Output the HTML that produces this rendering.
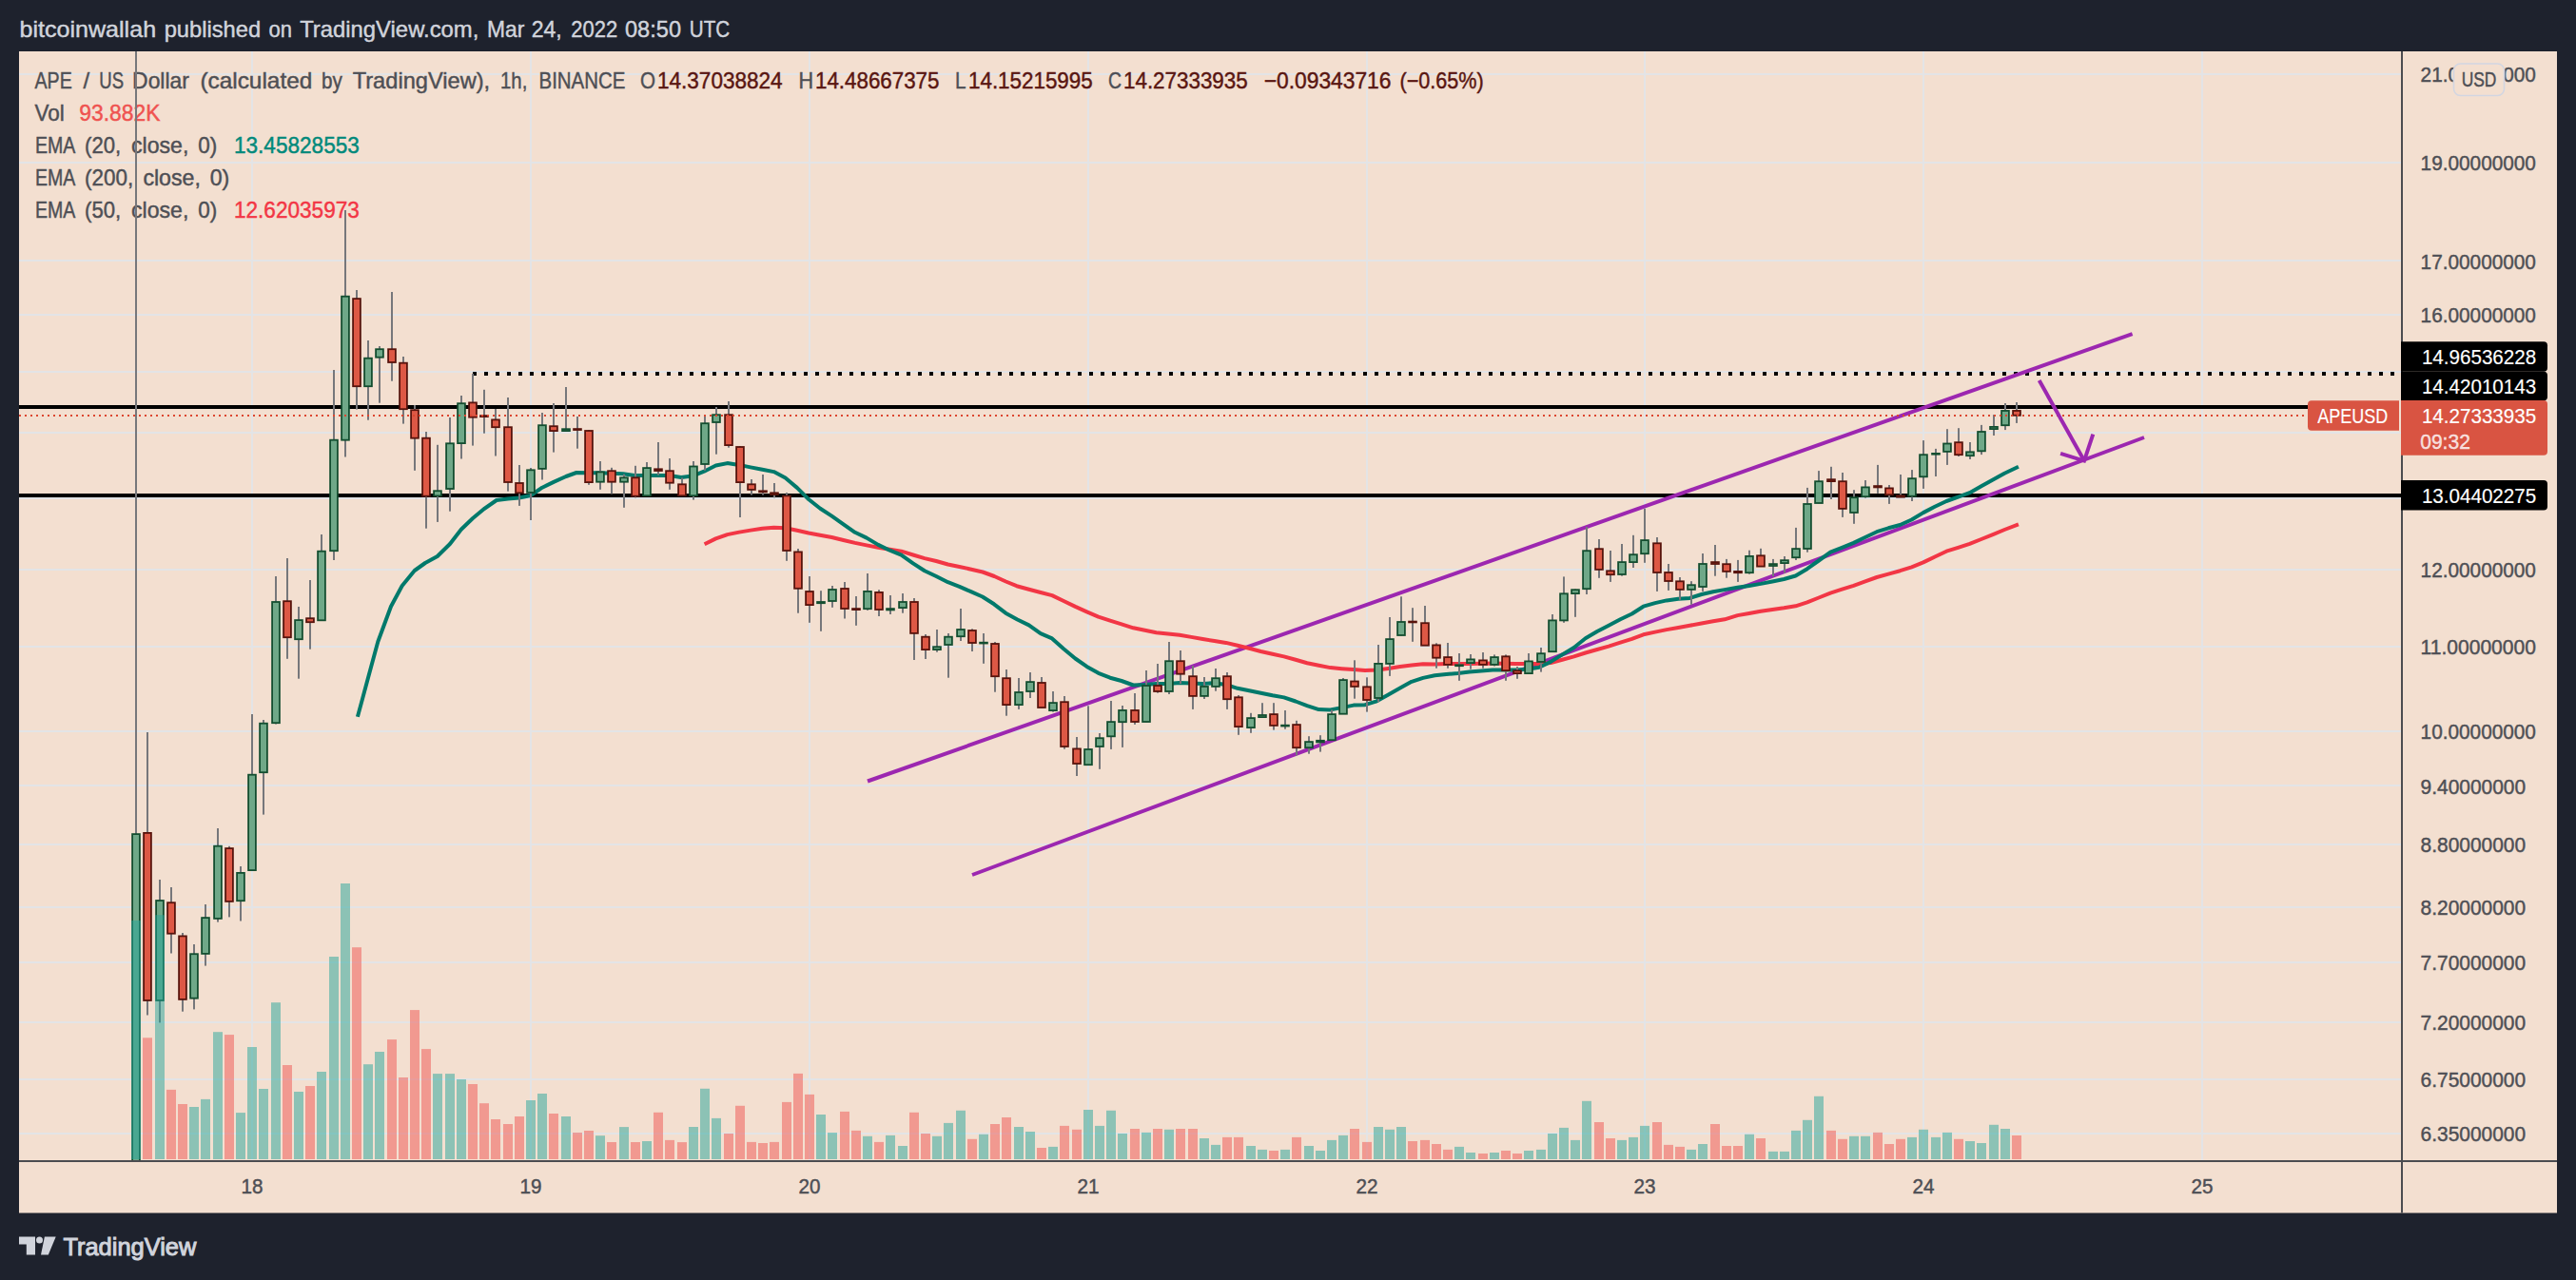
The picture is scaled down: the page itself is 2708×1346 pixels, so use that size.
<!DOCTYPE html><html><head><meta charset="utf-8"><title>APE / US Dollar chart</title><style>html,body{margin:0;padding:0;background:#1e222d;}body{width:2708px;height:1346px;overflow:hidden}</style></head><body><svg width="2708" height="1346" viewBox="0 0 2708 1346" style="display:block" font-family="'Liberation Sans', Arial, sans-serif">
<rect x="0" y="0" width="2708" height="1346" fill="#1e222d"/>
<rect x="20" y="54" width="2668" height="1221.5" fill="#f3dfd0"/>
<defs><clipPath id="cp"><rect x="20" y="54" width="2504" height="1166"/></clipPath></defs>
<g fill="#e3e4e6">
<rect x="264" y="54" width="2" height="1166"/>
<rect x="557" y="54" width="2" height="1166"/>
<rect x="850" y="54" width="2" height="1166"/>
<rect x="1143" y="54" width="2" height="1166"/>
<rect x="1436" y="54" width="2" height="1166"/>
<rect x="1728" y="54" width="2" height="1166"/>
<rect x="2021" y="54" width="2" height="1166"/>
<rect x="2314" y="54" width="2" height="1166"/>
<rect x="20" y="77" width="2504" height="2"/>
<rect x="20" y="170" width="2504" height="2"/>
<rect x="20" y="273" width="2504" height="2"/>
<rect x="20" y="330" width="2504" height="2"/>
<rect x="20" y="390" width="2504" height="2"/>
<rect x="20" y="454" width="2504" height="2"/>
<rect x="20" y="523" width="2504" height="2"/>
<rect x="20" y="598" width="2504" height="2"/>
<rect x="20" y="679" width="2504" height="2"/>
<rect x="20" y="768" width="2504" height="2"/>
<rect x="20" y="825" width="2504" height="2"/>
<rect x="20" y="887" width="2504" height="2"/>
<rect x="20" y="953" width="2504" height="2"/>
<rect x="20" y="1011" width="2504" height="2"/>
<rect x="20" y="1074" width="2504" height="2"/>
<rect x="20" y="1134" width="2504" height="2"/>
<rect x="20" y="1191" width="2504" height="2"/>
</g>
<text x="36.5" y="93" font-size="24" fill="#4e4f55" stroke="#4e4f55" stroke-width="0.45" textLength="39.2" lengthAdjust="spacingAndGlyphs">APE</text>
<text x="104.3" y="93" font-size="24" fill="#4e4f55" stroke="#4e4f55" stroke-width="0.45" textLength="25.7" lengthAdjust="spacingAndGlyphs">US</text>
<text x="139.1" y="93" font-size="24" fill="#4e4f55" stroke="#4e4f55" stroke-width="0.45" textLength="59.8" lengthAdjust="spacingAndGlyphs">Dollar</text>
<text x="210.4" y="93" font-size="24" fill="#4e4f55" stroke="#4e4f55" stroke-width="0.45" textLength="117.9" lengthAdjust="spacingAndGlyphs">(calculated</text>
<text x="338" y="93" font-size="24" fill="#4e4f55" stroke="#4e4f55" stroke-width="0.45" textLength="21.8" lengthAdjust="spacingAndGlyphs">by</text>
<text x="370.7" y="93" font-size="24" fill="#4e4f55" stroke="#4e4f55" stroke-width="0.45" textLength="144.5" lengthAdjust="spacingAndGlyphs">TradingView),</text>
<text x="526" y="93" font-size="24" fill="#4e4f55" stroke="#4e4f55" stroke-width="0.45" textLength="28.3" lengthAdjust="spacingAndGlyphs">1h,</text>
<text x="566.5" y="93" font-size="24" fill="#4e4f55" stroke="#4e4f55" stroke-width="0.45" textLength="90.9" lengthAdjust="spacingAndGlyphs">BINANCE</text>
<text x="673" y="93" font-size="24" fill="#4e4f55" stroke="#4e4f55" stroke-width="0.45" textLength="16" lengthAdjust="spacingAndGlyphs">O</text>
<text x="839.6" y="93" font-size="24" fill="#4e4f55" stroke="#4e4f55" stroke-width="0.45" textLength="15.6" lengthAdjust="spacingAndGlyphs">H</text>
<text x="1004" y="93" font-size="24" fill="#4e4f55" stroke="#4e4f55" stroke-width="0.45" textLength="11.5" lengthAdjust="spacingAndGlyphs">L</text>
<text x="1165" y="93" font-size="24" fill="#4e4f55" stroke="#4e4f55" stroke-width="0.45" textLength="14" lengthAdjust="spacingAndGlyphs">C</text>
<text x="691" y="93" font-size="24" fill="#5a1611" stroke="#5a1611" stroke-width="0.45" textLength="131.6" lengthAdjust="spacingAndGlyphs">14.37038824</text>
<text x="857" y="93" font-size="24" fill="#5a1611" stroke="#5a1611" stroke-width="0.45" textLength="130.4" lengthAdjust="spacingAndGlyphs">14.48667375</text>
<text x="1018" y="93" font-size="24" fill="#5a1611" stroke="#5a1611" stroke-width="0.45" textLength="130.7" lengthAdjust="spacingAndGlyphs">14.15215995</text>
<text x="1181" y="93" font-size="24" fill="#5a1611" stroke="#5a1611" stroke-width="0.45" textLength="130.7" lengthAdjust="spacingAndGlyphs">14.27333935</text>
<text x="1328.7" y="93" font-size="24" fill="#5a1611" stroke="#5a1611" stroke-width="0.45" textLength="133.8" lengthAdjust="spacingAndGlyphs">&#8722;0.09343716</text>
<text x="1471.5" y="93" font-size="24" fill="#5a1611" stroke="#5a1611" stroke-width="0.45" textLength="88.1" lengthAdjust="spacingAndGlyphs">(&#8722;0.65%)</text>
<text x="36.5" y="126.7" font-size="24" fill="#4e4f55" stroke="#4e4f55" stroke-width="0.45" textLength="31.3" lengthAdjust="spacingAndGlyphs">Vol</text>
<text x="87.5" y="93" font-size="24" fill="#4e4f55" stroke="#4e4f55" stroke-width="0.45">/</text>
<text x="83.3" y="126.7" font-size="24" fill="#ef5350" stroke="#ef5350" stroke-width="0.45" textLength="85.2" lengthAdjust="spacingAndGlyphs">93.882K</text>
<text x="37" y="160.9" font-size="24" fill="#4e4f55" stroke="#4e4f55" stroke-width="0.45" textLength="42.3" lengthAdjust="spacingAndGlyphs">EMA</text>
<text x="89.1" y="160.9" font-size="24" fill="#4e4f55" stroke="#4e4f55" stroke-width="0.45" textLength="38.1" lengthAdjust="spacingAndGlyphs">(20,</text>
<text x="138" y="160.9" font-size="24" fill="#4e4f55" stroke="#4e4f55" stroke-width="0.45" textLength="60.3" lengthAdjust="spacingAndGlyphs">close,</text>
<text x="208.3" y="160.9" font-size="24" fill="#4e4f55" stroke="#4e4f55" stroke-width="0.45" textLength="20.0" lengthAdjust="spacingAndGlyphs">0)</text>
<text x="246" y="160.9" font-size="24" fill="#00897b" stroke="#00897b" stroke-width="0.45" textLength="131.8" lengthAdjust="spacingAndGlyphs">13.45828553</text>
<text x="37" y="194.6" font-size="24" fill="#4e4f55" stroke="#4e4f55" stroke-width="0.45" textLength="42.3" lengthAdjust="spacingAndGlyphs">EMA</text>
<text x="89.1" y="194.6" font-size="24" fill="#4e4f55" stroke="#4e4f55" stroke-width="0.45" textLength="51.1" lengthAdjust="spacingAndGlyphs">(200,</text>
<text x="150.4" y="194.6" font-size="24" fill="#4e4f55" stroke="#4e4f55" stroke-width="0.45" textLength="60.5" lengthAdjust="spacingAndGlyphs">close,</text>
<text x="220.7" y="194.6" font-size="24" fill="#4e4f55" stroke="#4e4f55" stroke-width="0.45" textLength="20.6" lengthAdjust="spacingAndGlyphs">0)</text>
<text x="37" y="228.7" font-size="24" fill="#4e4f55" stroke="#4e4f55" stroke-width="0.45" textLength="42.3" lengthAdjust="spacingAndGlyphs">EMA</text>
<text x="89.1" y="228.7" font-size="24" fill="#4e4f55" stroke="#4e4f55" stroke-width="0.45" textLength="38.1" lengthAdjust="spacingAndGlyphs">(50,</text>
<text x="138" y="228.7" font-size="24" fill="#4e4f55" stroke="#4e4f55" stroke-width="0.45" textLength="60.3" lengthAdjust="spacingAndGlyphs">close,</text>
<text x="208.3" y="228.7" font-size="24" fill="#4e4f55" stroke="#4e4f55" stroke-width="0.45" textLength="20.0" lengthAdjust="spacingAndGlyphs">0)</text>
<text x="246" y="228.7" font-size="24" fill="#f23645" stroke="#f23645" stroke-width="0.45" textLength="131.8" lengthAdjust="spacingAndGlyphs">12.62035973</text>
<text x="20.5" y="38.9" font-size="24" fill="#d1d4dc" stroke="#d1d4dc" stroke-width="0.45" textLength="143.6" lengthAdjust="spacingAndGlyphs">bitcoinwallah</text>
<text x="172.7" y="38.9" font-size="24" fill="#d1d4dc" stroke="#d1d4dc" stroke-width="0.45" textLength="101.4" lengthAdjust="spacingAndGlyphs">published</text>
<text x="282.6" y="38.9" font-size="24" fill="#d1d4dc" stroke="#d1d4dc" stroke-width="0.45" textLength="24.5" lengthAdjust="spacingAndGlyphs">on</text>
<text x="315.2" y="38.9" font-size="24" fill="#d1d4dc" stroke="#d1d4dc" stroke-width="0.45" textLength="188.1" lengthAdjust="spacingAndGlyphs">TradingView.com,</text>
<text x="512.1" y="38.9" font-size="24" fill="#d1d4dc" stroke="#d1d4dc" stroke-width="0.45" textLength="39.3" lengthAdjust="spacingAndGlyphs">Mar</text>
<text x="558.7" y="38.9" font-size="24" fill="#d1d4dc" stroke="#d1d4dc" stroke-width="0.45" textLength="32.0" lengthAdjust="spacingAndGlyphs">24,</text>
<text x="600.3" y="38.9" font-size="24" fill="#d1d4dc" stroke="#d1d4dc" stroke-width="0.45" textLength="48.9" lengthAdjust="spacingAndGlyphs">2022</text>
<text x="657" y="38.9" font-size="24" fill="#d1d4dc" stroke="#d1d4dc" stroke-width="0.45" textLength="59" lengthAdjust="spacingAndGlyphs">08:50</text>
<text x="724.8" y="38.9" font-size="24" fill="#d1d4dc" stroke="#d1d4dc" stroke-width="0.45" textLength="42.4" lengthAdjust="spacingAndGlyphs">UTC</text>
<g clip-path="url(#cp)">
<rect x="20" y="426" width="2406" height="4" fill="#000"/>
<rect x="20" y="519" width="2504" height="4" fill="#000"/>
<line x1="497" y1="393" x2="2520" y2="393" stroke="#000" stroke-width="4" stroke-dasharray="4 8"/>
<g stroke="#9c27b0" stroke-width="4" fill="none">
<line x1="912" y1="821.5" x2="2241.6" y2="351.2"/>
<line x1="1022" y1="920" x2="2254" y2="460"/>
</g>
<polyline points="740.6,572.3 752.5,566.4 764.6,562.1 777.0,559.6 789.0,557.6 801.4,555.7 813.5,554.7 825.6,555.3 837.9,557.8 850.0,560.5 862.0,562.8 874.4,565.0 886.6,568.0 898.8,570.9 911.0,573.4 923.2,575.8 935.4,577.8 947.5,579.7 959.8,583.5 972.0,587.1 984.2,590.0 996.5,593.5 1008.6,596.0 1021.0,598.7 1033.0,601.5 1045.3,606.0 1057.4,611.5 1068.8,616.2 1081.6,619.8 1093.9,623.0 1106.0,626.1 1118.2,632.0 1130.4,637.9 1142.5,643.3 1154.7,648.6 1167.0,652.6 1179.0,656.4 1191.4,660.3 1203.5,662.8 1215.6,665.2 1227.9,666.5 1240.0,667.7 1252.3,669.9 1264.4,672.0 1276.7,674.0 1288.8,675.9 1300.9,678.8 1313.2,681.8 1325.4,685.0 1337.7,687.8 1349.7,690.4 1362.0,693.8 1374.1,697.2 1386.4,699.8 1398.5,702.1 1410.6,703.2 1422.9,704.1 1435.0,705.0 1447.3,704.6 1459.5,702.9 1471.8,701.1 1483.9,699.6 1496.0,698.2 1508.3,698.4 1520.4,698.0 1544.8,698.0 1569.2,697.6 1593.6,698.0 1618.0,698.0 1630.2,697.0 1642.3,693.7 1654.6,690.4 1666.7,686.5 1679.0,683.0 1691.1,679.6 1703.4,675.7 1715.5,671.8 1727.6,667.3 1739.9,664.6 1752.0,662.1 1764.3,660.0 1776.4,657.8 1788.7,655.5 1800.9,653.3 1813.0,651.3 1826.6,647.1 1838.8,645.0 1851.0,642.8 1863.2,641.0 1875.4,639.3 1887.6,637.3 1899.8,633.4 1912.0,628.5 1924.2,623.6 1936.4,619.7 1948.6,615.8 1960.8,611.4 1973.0,607.0 1985.2,603.6 1997.4,600.2 2009.6,596.3 2021.8,591.4 2034.0,585.5 2046.2,579.7 2058.4,575.8 2070.6,571.9 2082.8,567.0 2095.0,562.1 2107.2,557.0 2121.9,551.4" fill="none" stroke="#f23645" stroke-width="4" stroke-linejoin="round"/>
<polyline points="375.9,753.7 381.0,735.0 387.6,710.5 397.3,674.8 411.0,637.7 422.7,616.0 435.8,600.0 447.0,592.0 459.8,585.0 473.0,572.0 484.8,556.7 497.0,545.0 509.0,535.0 522.0,526.0 534.0,524.5 545.8,523.5 558.0,521.0 570.0,512.7 582.0,506.9 595.0,501.0 606.0,497.0 618.4,497.3 630.7,497.3 643.0,497.7 655.0,498.2 667.0,500.0 679.0,500.0 691.6,500.0 703.7,500.0 716.0,502.0 728.0,500.6 740.2,495.7 752.5,489.5 764.6,487.1 777.0,488.9 789.0,491.4 801.4,493.8 813.5,496.1 825.6,502.5 837.9,512.9 850.0,525.0 862.3,534.8 874.4,542.6 886.7,551.4 898.8,559.8 911.0,565.6 923.2,572.9 935.4,578.7 947.5,583.6 959.8,592.4 972.0,600.2 984.2,606.0 996.5,612.2 1008.6,616.8 1020.7,622.2 1032.8,627.5 1045.0,635.3 1057.2,644.7 1069.5,651.5 1081.6,657.4 1093.9,666.2 1106.0,671.4 1118.1,682.2 1130.4,692.5 1142.5,700.9 1154.7,707.8 1167.0,712.7 1179.0,716.0 1191.4,720.5 1203.5,719.9 1215.6,718.9 1227.9,718.9 1240.0,717.9 1252.3,718.5 1264.4,718.9 1276.7,718.3 1288.8,719.9 1300.9,723.8 1313.2,726.3 1325.4,728.7 1337.7,731.3 1349.7,733.4 1362.0,737.5 1374.1,742.1 1386.4,746.1 1398.5,746.4 1410.6,744.1 1422.9,741.6 1435.0,741.2 1447.3,737.3 1459.5,730.4 1471.8,723.6 1483.9,716.8 1496.0,712.9 1508.3,710.3 1520.4,708.9 1532.7,708.0 1544.8,706.6 1557.1,705.6 1569.2,704.5 1581.3,704.5 1593.6,704.6 1605.7,703.7 1618.0,701.7 1630.2,695.9 1642.3,688.4 1654.6,681.0 1666.7,671.2 1679.0,664.0 1691.1,657.8 1703.4,651.3 1715.5,645.5 1727.6,637.7 1739.9,634.1 1752.0,631.4 1764.3,629.8 1776.4,628.9 1788.8,625.0 1800.9,622.3 1813.0,620.1 1826.6,617.8 1838.8,615.9 1851.0,613.9 1863.2,611.5 1875.4,609.0 1887.6,605.5 1899.8,598.2 1912.0,589.5 1924.2,580.7 1936.4,575.8 1948.6,570.9 1960.8,565.0 1973.0,559.2 1985.2,555.3 1997.4,552.0 2009.6,546.5 2021.8,539.1 2034.0,532.8 2046.2,527.0 2058.4,522.7 2070.6,518.2 2082.8,511.3 2095.0,504.5 2107.2,497.7 2121.9,490.8" fill="none" stroke="#00796b" stroke-width="4" stroke-linejoin="round"/>
<g fill="#76777b"><rect x="142" y="54.0" width="2" height="1168.0"/><rect x="154" y="770.0" width="2" height="297.5"/><rect x="167" y="925.0" width="2" height="150.4"/><rect x="179" y="933.0" width="2" height="69.5"/><rect x="191" y="981.0" width="2" height="82.7"/><rect x="203" y="993.0" width="2" height="68.4"/><rect x="215" y="951.0" width="2" height="64.6"/><rect x="228" y="871.0" width="2" height="98.6"/><rect x="240" y="889.8" width="2" height="74.6"/><rect x="252" y="911.0" width="2" height="57.5"/><rect x="264" y="751.0" width="2" height="164.4"/><rect x="276" y="757.0" width="2" height="99.6"/><rect x="289" y="606.0" width="2" height="155.5"/><rect x="301" y="587.0" width="2" height="105.8"/><rect x="313" y="638.0" width="2" height="75.7"/><rect x="325" y="610.0" width="2" height="72.7"/><rect x="337" y="562.0" width="2" height="90.6"/><rect x="350" y="389.0" width="2" height="200.0"/><rect x="362" y="221.0" width="2" height="259.5"/><rect x="374" y="305.0" width="2" height="125.5"/><rect x="386" y="358.0" width="2" height="83.7"/><rect x="398" y="364.0" width="2" height="59.7"/><rect x="411" y="307.0" width="2" height="93.7"/><rect x="423" y="375.0" width="2" height="70.6"/><rect x="435" y="426.0" width="2" height="68.8"/><rect x="447" y="454.0" width="2" height="101.7"/><rect x="459" y="467.8" width="2" height="81.1"/><rect x="472" y="439.0" width="2" height="98.7"/><rect x="484" y="416.0" width="2" height="66.5"/><rect x="496" y="393.0" width="2" height="75.6"/><rect x="508" y="409.8" width="2" height="45.9"/><rect x="520" y="430.0" width="2" height="49.5"/><rect x="533" y="418.0" width="2" height="98.6"/><rect x="545" y="489.0" width="2" height="42.9"/><rect x="557" y="492.0" width="2" height="55.0"/><rect x="569" y="434.0" width="2" height="70.5"/><rect x="581" y="424.0" width="2" height="51.6"/><rect x="594" y="407.0" width="2" height="47.0"/><rect x="606" y="438.0" width="2" height="33.7"/><rect x="618" y="452.0" width="2" height="57.8"/><rect x="630" y="485.0" width="2" height="29.8"/><rect x="642" y="491.8" width="2" height="27.7"/><rect x="655" y="498.6" width="2" height="35.2"/><rect x="667" y="489.8" width="2" height="33.6"/><rect x="679" y="486.0" width="2" height="35.5"/><rect x="691" y="465.0" width="2" height="34.6"/><rect x="703" y="482.0" width="2" height="32.8"/><rect x="716" y="502.5" width="2" height="19.0"/><rect x="728" y="485.0" width="2" height="40.6"/><rect x="740" y="438.0" width="2" height="56.7"/><rect x="752" y="428.0" width="2" height="49.7"/><rect x="765" y="422.0" width="2" height="48.7"/><rect x="777" y="469.0" width="2" height="75.0"/><rect x="789" y="504.0" width="2" height="16.5"/><rect x="801" y="499.0" width="2" height="21.5"/><rect x="813" y="508.0" width="2" height="15.4"/><rect x="826" y="518.0" width="2" height="71.8"/><rect x="838" y="577.0" width="2" height="67.7"/><rect x="850" y="606.0" width="2" height="48.8"/><rect x="862" y="621.2" width="2" height="42.6"/><rect x="874" y="616.0" width="2" height="22.8"/><rect x="887" y="612.0" width="2" height="38.5"/><rect x="899" y="627.0" width="2" height="30.8"/><rect x="911" y="603.0" width="2" height="38.8"/><rect x="923" y="620.2" width="2" height="27.8"/><rect x="935" y="626.0" width="2" height="20.0"/><rect x="948" y="624.0" width="2" height="20.7"/><rect x="960" y="629.0" width="2" height="65.0"/><rect x="972" y="667.0" width="2" height="26.0"/><rect x="984" y="662.0" width="2" height="23.7"/><rect x="996" y="666.0" width="2" height="46.7"/><rect x="1009" y="640.0" width="2" height="34.0"/><rect x="1021" y="661.3" width="2" height="23.7"/><rect x="1033" y="666.0" width="2" height="31.8"/><rect x="1045" y="675.0" width="2" height="52.7"/><rect x="1057" y="704.0" width="2" height="48.7"/><rect x="1070" y="713.0" width="2" height="32.9"/><rect x="1082" y="707.0" width="2" height="27.0"/><rect x="1094" y="712.0" width="2" height="32.3"/><rect x="1106" y="727.0" width="2" height="21.6"/><rect x="1118" y="732.0" width="2" height="55.7"/><rect x="1131" y="775.0" width="2" height="41.0"/><rect x="1143" y="742.3" width="2" height="62.2"/><rect x="1155" y="771.0" width="2" height="37.8"/><rect x="1167" y="737.0" width="2" height="50.9"/><rect x="1179" y="742.0" width="2" height="43.9"/><rect x="1192" y="729.0" width="2" height="32.9"/><rect x="1204" y="705.0" width="2" height="54.3"/><rect x="1216" y="698.0" width="2" height="30.7"/><rect x="1228" y="675.0" width="2" height="55.0"/><rect x="1240" y="684.0" width="2" height="35.0"/><rect x="1253" y="700.0" width="2" height="45.9"/><rect x="1265" y="712.0" width="2" height="23.0"/><rect x="1277" y="703.0" width="2" height="23.7"/><rect x="1289" y="707.0" width="2" height="38.9"/><rect x="1301" y="731.0" width="2" height="41.8"/><rect x="1314" y="749.8" width="2" height="21.0"/><rect x="1326" y="739.2" width="2" height="15.2"/><rect x="1338" y="739.2" width="2" height="28.4"/><rect x="1350" y="747.0" width="2" height="19.7"/><rect x="1362" y="757.8" width="2" height="36.6"/><rect x="1375" y="774.2" width="2" height="18.5"/><rect x="1387" y="773.2" width="2" height="17.4"/><rect x="1399" y="746.5" width="2" height="32.0"/><rect x="1411" y="713.0" width="2" height="38.0"/><rect x="1423" y="694.3" width="2" height="40.4"/><rect x="1436" y="712.3" width="2" height="36.3"/><rect x="1448" y="678.0" width="2" height="60.2"/><rect x="1460" y="649.0" width="2" height="61.9"/><rect x="1472" y="627.3" width="2" height="41.0"/><rect x="1484" y="639.2" width="2" height="35.6"/><rect x="1497" y="637.0" width="2" height="42.0"/><rect x="1509" y="676.3" width="2" height="26.4"/><rect x="1521" y="676.0" width="2" height="26.7"/><rect x="1533" y="687.0" width="2" height="28.8"/><rect x="1545" y="688.0" width="2" height="15.7"/><rect x="1558" y="686.0" width="2" height="16.7"/><rect x="1570" y="688.4" width="2" height="12.1"/><rect x="1582" y="688.4" width="2" height="27.4"/><rect x="1594" y="701.0" width="2" height="12.8"/><rect x="1606" y="687.0" width="2" height="21.4"/><rect x="1619" y="681.0" width="2" height="25.6"/><rect x="1631" y="646.0" width="2" height="39.5"/><rect x="1643" y="606.4" width="2" height="48.4"/><rect x="1655" y="619.5" width="2" height="29.3"/><rect x="1667" y="554.0" width="2" height="71.0"/><rect x="1680" y="567.0" width="2" height="40.8"/><rect x="1692" y="579.0" width="2" height="32.9"/><rect x="1704" y="572.0" width="2" height="33.7"/><rect x="1716" y="562.8" width="2" height="34.2"/><rect x="1728" y="534.8" width="2" height="57.0"/><rect x="1741" y="565.0" width="2" height="56.9"/><rect x="1753" y="593.0" width="2" height="27.9"/><rect x="1765" y="607.0" width="2" height="23.8"/><rect x="1777" y="611.2" width="2" height="24.6"/><rect x="1789" y="582.0" width="2" height="39.9"/><rect x="1802" y="573.0" width="2" height="32.7"/><rect x="1814" y="587.9" width="2" height="19.8"/><rect x="1826" y="588.9" width="2" height="23.0"/><rect x="1838" y="578.7" width="2" height="25.0"/><rect x="1850" y="576.8" width="2" height="19.1"/><rect x="1863" y="587.9" width="2" height="18.1"/><rect x="1875" y="585.0" width="2" height="17.5"/><rect x="1887" y="554.9" width="2" height="34.1"/><rect x="1899" y="512.9" width="2" height="67.8"/><rect x="1911" y="495.1" width="2" height="34.2"/><rect x="1924" y="490.8" width="2" height="34.2"/><rect x="1936" y="497.0" width="2" height="46.9"/><rect x="1948" y="515.2" width="2" height="35.6"/><rect x="1960" y="505.0" width="2" height="18.6"/><rect x="1973" y="488.9" width="2" height="29.9"/><rect x="1985" y="510.0" width="2" height="19.9"/><rect x="1997" y="499.0" width="2" height="24.0"/><rect x="2009" y="494.1" width="2" height="32.9"/><rect x="2021" y="463.1" width="2" height="50.8"/><rect x="2034" y="471.9" width="2" height="29.1"/><rect x="2046" y="451.2" width="2" height="37.7"/><rect x="2058" y="450.2" width="2" height="29.8"/><rect x="2070" y="465.0" width="2" height="18.0"/><rect x="2082" y="446.9" width="2" height="31.2"/><rect x="2095" y="436.1" width="2" height="21.9"/><rect x="2107" y="424.0" width="2" height="28.1"/><rect x="2119" y="423.0" width="2" height="21.9"/></g>
<g fill="#6fa888" stroke="#134e30" stroke-width="1.8"><rect x="139.1" y="877.10" width="7.8" height="344.60"/><rect x="164.1" y="947.00" width="7.8" height="105.00"/><rect x="200.1" y="1003.20" width="7.8" height="46.50"/><rect x="212.1" y="965.10" width="7.8" height="37.80"/><rect x="225.1" y="889.70" width="7.8" height="76.20"/><rect x="249.1" y="917.90" width="7.8" height="29.30"/><rect x="261.1" y="814.70" width="7.8" height="100.40"/><rect x="273.1" y="760.70" width="7.8" height="51.50"/><rect x="286.1" y="633.00" width="7.8" height="127.20"/><rect x="310.1" y="652.10" width="7.8" height="20.10"/><rect x="334.1" y="579.70" width="7.8" height="72.60"/><rect x="347.1" y="462.70" width="7.8" height="116.50"/><rect x="359.1" y="311.70" width="7.8" height="151.00"/><rect x="383.1" y="376.70" width="7.8" height="29.50"/><rect x="395.1" y="367.20" width="7.8" height="8.50"/><rect x="456.1" y="516.20" width="7.8" height="5.20"/><rect x="469.1" y="466.30" width="7.8" height="47.70"/><rect x="481.1" y="424.20" width="7.8" height="41.90"/><rect x="554.1" y="494.30" width="7.8" height="23.60"/><rect x="566.1" y="447.20" width="7.8" height="45.70"/><rect x="591.1" y="451.20" width="7.8" height="1.90"/><rect x="627.1" y="496.40" width="7.8" height="10.30"/><rect x="652.1" y="502.30" width="7.8" height="4.40"/><rect x="676.1" y="492.10" width="7.8" height="29.10"/><rect x="725.1" y="490.50" width="7.8" height="30.70"/><rect x="737.1" y="445.20" width="7.8" height="42.80"/><rect x="749.1" y="436.20" width="7.8" height="7.80"/><rect x="859.1" y="633.00" width="7.8" height="1.20"/><rect x="871.1" y="620.00" width="7.8" height="12.00"/><rect x="908.1" y="621.90" width="7.8" height="18.30"/><rect x="932.1" y="640.10" width="7.8" height="1.30"/><rect x="945.1" y="633.00" width="7.8" height="6.10"/><rect x="981.1" y="680.20" width="7.8" height="2.90"/><rect x="993.1" y="669.70" width="7.8" height="8.30"/><rect x="1006.1" y="662.00" width="7.8" height="7.20"/><rect x="1030.1" y="675.70" width="7.8" height="0.80"/><rect x="1067.1" y="728.00" width="7.8" height="13.10"/><rect x="1079.1" y="717.10" width="7.8" height="9.90"/><rect x="1103.1" y="739.10" width="7.8" height="8.00"/><rect x="1140.1" y="788.00" width="7.8" height="16.20"/><rect x="1152.1" y="776.20" width="7.8" height="8.80"/><rect x="1164.1" y="759.10" width="7.8" height="15.20"/><rect x="1176.1" y="746.95" width="7.8" height="12.25"/><rect x="1201.1" y="721.00" width="7.8" height="38.00"/><rect x="1225.1" y="695.20" width="7.8" height="31.80"/><rect x="1262.1" y="721.95" width="7.8" height="9.95"/><rect x="1274.1" y="713.20" width="7.8" height="8.70"/><rect x="1311.1" y="755.10" width="7.8" height="10.00"/><rect x="1323.1" y="752.00" width="7.8" height="2.10"/><rect x="1347.1" y="762.70" width="7.8" height="0.80"/><rect x="1372.1" y="780.10" width="7.8" height="6.10"/><rect x="1384.1" y="778.80" width="7.8" height="1.60"/><rect x="1396.1" y="751.10" width="7.8" height="27.10"/><rect x="1408.1" y="715.10" width="7.8" height="35.60"/><rect x="1445.1" y="697.90" width="7.8" height="36.10"/><rect x="1457.1" y="672.10" width="7.8" height="25.80"/><rect x="1469.1" y="654.00" width="7.8" height="14.00"/><rect x="1530.1" y="699.30" width="7.8" height="0.90"/><rect x="1542.1" y="693.40" width="7.8" height="3.70"/><rect x="1567.1" y="691.10" width="7.8" height="7.80"/><rect x="1603.1" y="695.40" width="7.8" height="12.70"/><rect x="1616.1" y="687.20" width="7.8" height="8.75"/><rect x="1628.1" y="652.40" width="7.8" height="32.80"/><rect x="1640.1" y="624.30" width="7.8" height="28.10"/><rect x="1652.1" y="620.20" width="7.8" height="3.90"/><rect x="1664.1" y="579.20" width="7.8" height="40.00"/><rect x="1701.1" y="591.10" width="7.8" height="12.90"/><rect x="1713.1" y="583.20" width="7.8" height="7.90"/><rect x="1725.1" y="568.10" width="7.8" height="14.10"/><rect x="1774.1" y="615.20" width="7.8" height="4.70"/><rect x="1786.1" y="593.00" width="7.8" height="24.00"/><rect x="1835.1" y="584.90" width="7.8" height="17.30"/><rect x="1860.1" y="593.10" width="7.8" height="1.90"/><rect x="1872.1" y="589.20" width="7.8" height="2.90"/><rect x="1884.1" y="577.10" width="7.8" height="9.10"/><rect x="1896.1" y="530.00" width="7.8" height="47.00"/><rect x="1908.1" y="506.20" width="7.8" height="22.80"/><rect x="1945.1" y="523.20" width="7.8" height="15.80"/><rect x="1957.1" y="512.40" width="7.8" height="9.80"/><rect x="2006.1" y="503.20" width="7.8" height="18.50"/><rect x="2018.1" y="478.20" width="7.8" height="23.10"/><rect x="2031.1" y="476.90" width="7.8" height="0.80"/><rect x="2043.1" y="466.50" width="7.8" height="8.40"/><rect x="2067.1" y="475.30" width="7.8" height="3.90"/><rect x="2079.1" y="454.00" width="7.8" height="20.30"/><rect x="2092.1" y="448.90" width="7.8" height="2.20"/><rect x="2104.1" y="431.95" width="7.8" height="15.25"/></g>
<g fill="#dd5845" stroke="#58130c" stroke-width="1.8"><rect x="151.1" y="875.90" width="7.8" height="176.10"/><rect x="176.1" y="949.20" width="7.8" height="32.50"/><rect x="188.1" y="984.40" width="7.8" height="66.50"/><rect x="237.1" y="892.10" width="7.8" height="55.80"/><rect x="298.1" y="632.20" width="7.8" height="38.00"/><rect x="322.1" y="650.20" width="7.8" height="4.00"/><rect x="371.1" y="314.10" width="7.8" height="92.10"/><rect x="408.1" y="367.20" width="7.8" height="13.80"/><rect x="420.1" y="381.70" width="7.8" height="48.50"/><rect x="432.1" y="431.20" width="7.8" height="29.50"/><rect x="444.1" y="460.70" width="7.8" height="61.00"/><rect x="493.1" y="423.40" width="7.8" height="15.30"/><rect x="505.1" y="437.10" width="7.8" height="1.00"/><rect x="517.1" y="441.40" width="7.8" height="7.80"/><rect x="530.1" y="449.20" width="7.8" height="57.80"/><rect x="542.1" y="508.00" width="7.8" height="10.30"/><rect x="578.1" y="448.20" width="7.8" height="4.90"/><rect x="603.1" y="451.10" width="7.8" height="0.90"/><rect x="615.1" y="453.00" width="7.8" height="54.10"/><rect x="639.1" y="495.20" width="7.8" height="11.50"/><rect x="664.1" y="502.30" width="7.8" height="19.40"/><rect x="688.1" y="493.30" width="7.8" height="1.70"/><rect x="700.1" y="495.20" width="7.8" height="12.50"/><rect x="713.1" y="509.30" width="7.8" height="11.90"/><rect x="762.1" y="436.20" width="7.8" height="31.90"/><rect x="774.1" y="470.00" width="7.8" height="37.10"/><rect x="786.1" y="509.30" width="7.8" height="5.60"/><rect x="798.1" y="516.30" width="7.8" height="1.00"/><rect x="810.1" y="518.30" width="7.8" height="1.70"/><rect x="823.1" y="521.40" width="7.8" height="57.60"/><rect x="835.1" y="580.40" width="7.8" height="38.40"/><rect x="847.1" y="622.00" width="7.8" height="14.10"/><rect x="884.1" y="619.00" width="7.8" height="21.00"/><rect x="896.1" y="640.10" width="7.8" height="1.00"/><rect x="920.1" y="622.90" width="7.8" height="18.10"/><rect x="957.1" y="633.00" width="7.8" height="32.90"/><rect x="969.1" y="669.70" width="7.8" height="13.40"/><rect x="1018.1" y="663.00" width="7.8" height="13.00"/><rect x="1042.1" y="677.00" width="7.8" height="34.20"/><rect x="1054.1" y="713.20" width="7.8" height="27.90"/><rect x="1091.1" y="718.00" width="7.8" height="26.00"/><rect x="1115.1" y="738.20" width="7.8" height="46.80"/><rect x="1128.1" y="787.40" width="7.8" height="15.60"/><rect x="1189.1" y="746.95" width="7.8" height="12.05"/><rect x="1213.1" y="721.00" width="7.8" height="6.00"/><rect x="1237.1" y="695.20" width="7.8" height="13.50"/><rect x="1250.1" y="711.20" width="7.8" height="20.70"/><rect x="1286.1" y="711.20" width="7.8" height="24.00"/><rect x="1298.1" y="733.30" width="7.8" height="30.80"/><rect x="1335.1" y="751.10" width="7.8" height="11.80"/><rect x="1359.1" y="762.10" width="7.8" height="24.10"/><rect x="1420.1" y="716.50" width="7.8" height="5.40"/><rect x="1433.1" y="722.30" width="7.8" height="13.70"/><rect x="1481.1" y="653.60" width="7.8" height="0.80"/><rect x="1494.1" y="655.20" width="7.8" height="23.50"/><rect x="1506.1" y="678.40" width="7.8" height="13.30"/><rect x="1518.1" y="691.10" width="7.8" height="7.80"/><rect x="1555.1" y="694.40" width="7.8" height="4.50"/><rect x="1579.1" y="690.30" width="7.8" height="14.80"/><rect x="1591.1" y="705.30" width="7.8" height="2.80"/><rect x="1677.1" y="577.20" width="7.8" height="21.70"/><rect x="1689.1" y="600.30" width="7.8" height="3.90"/><rect x="1738.1" y="571.30" width="7.8" height="30.70"/><rect x="1750.1" y="602.00" width="7.8" height="9.00"/><rect x="1762.1" y="611.30" width="7.8" height="8.60"/><rect x="1799.1" y="591.10" width="7.8" height="1.90"/><rect x="1811.1" y="593.20" width="7.8" height="7.70"/><rect x="1823.1" y="600.90" width="7.8" height="1.30"/><rect x="1847.1" y="584.30" width="7.8" height="11.30"/><rect x="1921.1" y="504.20" width="7.8" height="1.90"/><rect x="1933.1" y="506.20" width="7.8" height="28.70"/><rect x="1970.1" y="511.10" width="7.8" height="1.30"/><rect x="1982.1" y="513.40" width="7.8" height="6.80"/><rect x="1994.1" y="521.20" width="7.8" height="1.50"/><rect x="2055.1" y="465.20" width="7.8" height="13.00"/><rect x="2116.1" y="431.95" width="7.8" height="4.85"/></g>
<g fill="rgba(38,166,154,0.5)"><rect x="138" y="968.0" width="10" height="251.0"/><rect x="163" y="962.2" width="10" height="256.8"/><rect x="199" y="1164.0" width="10" height="55.0"/><rect x="211" y="1155.9" width="10" height="63.1"/><rect x="224" y="1085.2" width="10" height="133.8"/><rect x="248" y="1170.1" width="10" height="48.9"/><rect x="260" y="1101.0" width="10" height="118.0"/><rect x="272" y="1145.0" width="10" height="74.0"/><rect x="285" y="1054.2" width="10" height="164.8"/><rect x="309" y="1148.0" width="10" height="71.0"/><rect x="333" y="1127.0" width="10" height="92.0"/><rect x="346" y="1006.0" width="10" height="213.0"/><rect x="358" y="929.0" width="10" height="290.0"/><rect x="382" y="1119.2" width="10" height="99.8"/><rect x="394" y="1106.0" width="10" height="113.0"/><rect x="455" y="1129.1" width="10" height="89.9"/><rect x="468" y="1129.1" width="10" height="89.9"/><rect x="480" y="1135.0" width="10" height="84.0"/><rect x="553" y="1157.0" width="10" height="62.0"/><rect x="565" y="1150.0" width="10" height="69.0"/><rect x="590" y="1174.0" width="10" height="45.0"/><rect x="626" y="1194.2" width="10" height="24.8"/><rect x="651" y="1185.1" width="10" height="33.9"/><rect x="675" y="1200.0" width="10" height="19.0"/><rect x="724" y="1185.0" width="10" height="34.0"/><rect x="736" y="1144.8" width="10" height="74.2"/><rect x="748" y="1175.9" width="10" height="43.1"/><rect x="858" y="1172.0" width="10" height="47.0"/><rect x="870" y="1191.1" width="10" height="27.9"/><rect x="907" y="1194.8" width="10" height="24.2"/><rect x="931" y="1193.9" width="10" height="25.1"/><rect x="944" y="1205.0" width="10" height="14.0"/><rect x="980" y="1194.8" width="10" height="24.2"/><rect x="992" y="1180.9" width="10" height="38.1"/><rect x="1005" y="1167.8" width="10" height="51.2"/><rect x="1029" y="1192.8" width="10" height="26.2"/><rect x="1066" y="1185.0" width="10" height="34.0"/><rect x="1078" y="1190.0" width="10" height="29.0"/><rect x="1102" y="1205.9" width="10" height="13.1"/><rect x="1139" y="1167.0" width="10" height="52.0"/><rect x="1151" y="1183.9" width="10" height="35.1"/><rect x="1163" y="1167.8" width="10" height="51.2"/><rect x="1175" y="1192.0" width="10" height="27.0"/><rect x="1200" y="1190.9" width="10" height="28.1"/><rect x="1224" y="1187.8" width="10" height="31.2"/><rect x="1261" y="1197.0" width="10" height="22.0"/><rect x="1273" y="1203.9" width="10" height="15.1"/><rect x="1310" y="1205.0" width="10" height="14.0"/><rect x="1322" y="1208.9" width="10" height="10.1"/><rect x="1346" y="1208.9" width="10" height="10.1"/><rect x="1371" y="1205.0" width="10" height="14.0"/><rect x="1383" y="1210.0" width="10" height="9.0"/><rect x="1395" y="1198.9" width="10" height="20.1"/><rect x="1407" y="1193.9" width="10" height="25.1"/><rect x="1444" y="1185.0" width="10" height="34.0"/><rect x="1456" y="1187.8" width="10" height="31.2"/><rect x="1468" y="1185.0" width="10" height="34.0"/><rect x="1529" y="1205.9" width="10" height="13.1"/><rect x="1541" y="1212.0" width="10" height="7.0"/><rect x="1566" y="1212.0" width="10" height="7.0"/><rect x="1602" y="1210.0" width="10" height="9.0"/><rect x="1615" y="1208.9" width="10" height="10.1"/><rect x="1627" y="1192.0" width="10" height="27.0"/><rect x="1639" y="1185.9" width="10" height="33.1"/><rect x="1651" y="1198.9" width="10" height="20.1"/><rect x="1663" y="1157.8" width="10" height="61.2"/><rect x="1700" y="1198.9" width="10" height="20.1"/><rect x="1712" y="1195.9" width="10" height="23.1"/><rect x="1724" y="1183.9" width="10" height="35.1"/><rect x="1773" y="1208.9" width="10" height="10.1"/><rect x="1785" y="1203.0" width="10" height="16.0"/><rect x="1834" y="1192.8" width="10" height="26.2"/><rect x="1859" y="1210.9" width="10" height="8.1"/><rect x="1871" y="1210.9" width="10" height="8.1"/><rect x="1883" y="1188.9" width="10" height="30.1"/><rect x="1895" y="1177.8" width="10" height="41.2"/><rect x="1907" y="1152.8" width="10" height="66.2"/><rect x="1944" y="1194.8" width="10" height="24.2"/><rect x="1956" y="1194.8" width="10" height="24.2"/><rect x="2005" y="1195.9" width="10" height="23.1"/><rect x="2017" y="1187.8" width="10" height="31.2"/><rect x="2030" y="1195.9" width="10" height="23.1"/><rect x="2042" y="1190.9" width="10" height="28.1"/><rect x="2066" y="1200.0" width="10" height="19.0"/><rect x="2078" y="1202.0" width="10" height="17.0"/><rect x="2091" y="1182.8" width="10" height="36.2"/><rect x="2103" y="1187.0" width="10" height="32.0"/></g>
<g fill="rgba(239,83,80,0.5)"><rect x="150" y="1091.3" width="10" height="127.7"/><rect x="175" y="1145.9" width="10" height="73.1"/><rect x="187" y="1161.0" width="10" height="58.0"/><rect x="236" y="1088.1" width="10" height="130.9"/><rect x="297" y="1120.0" width="10" height="99.0"/><rect x="321" y="1142.0" width="10" height="77.0"/><rect x="370" y="996.2" width="10" height="222.8"/><rect x="407" y="1093.1" width="10" height="125.9"/><rect x="419" y="1133.0" width="10" height="86.0"/><rect x="431" y="1062.1" width="10" height="156.9"/><rect x="443" y="1103.1" width="10" height="115.9"/><rect x="492" y="1140.0" width="10" height="79.0"/><rect x="504" y="1160.2" width="10" height="58.8"/><rect x="516" y="1177.0" width="10" height="42.0"/><rect x="529" y="1182.0" width="10" height="37.0"/><rect x="541" y="1174.0" width="10" height="45.0"/><rect x="577" y="1171.0" width="10" height="48.0"/><rect x="602" y="1191.0" width="10" height="28.0"/><rect x="614" y="1189.0" width="10" height="30.0"/><rect x="638" y="1201.0" width="10" height="18.0"/><rect x="663" y="1201.0" width="10" height="18.0"/><rect x="687" y="1169.8" width="10" height="49.2"/><rect x="699" y="1198.9" width="10" height="20.1"/><rect x="712" y="1201.1" width="10" height="17.9"/><rect x="761" y="1192.0" width="10" height="27.0"/><rect x="773" y="1162.8" width="10" height="56.2"/><rect x="785" y="1200.9" width="10" height="18.1"/><rect x="797" y="1202.0" width="10" height="17.0"/><rect x="809" y="1200.9" width="10" height="18.1"/><rect x="822" y="1158.9" width="10" height="60.1"/><rect x="834" y="1128.9" width="10" height="90.1"/><rect x="846" y="1150.9" width="10" height="68.1"/><rect x="883" y="1168.9" width="10" height="50.1"/><rect x="895" y="1188.9" width="10" height="30.1"/><rect x="919" y="1200.9" width="10" height="18.1"/><rect x="956" y="1169.8" width="10" height="49.2"/><rect x="968" y="1192.0" width="10" height="27.0"/><rect x="1017" y="1197.8" width="10" height="21.2"/><rect x="1041" y="1182.0" width="10" height="37.0"/><rect x="1053" y="1175.0" width="10" height="44.0"/><rect x="1090" y="1207.0" width="10" height="12.0"/><rect x="1114" y="1183.9" width="10" height="35.1"/><rect x="1127" y="1187.8" width="10" height="31.2"/><rect x="1188" y="1187.0" width="10" height="32.0"/><rect x="1212" y="1187.0" width="10" height="32.0"/><rect x="1236" y="1187.0" width="10" height="32.0"/><rect x="1249" y="1187.0" width="10" height="32.0"/><rect x="1285" y="1195.9" width="10" height="23.1"/><rect x="1297" y="1195.9" width="10" height="23.1"/><rect x="1334" y="1210.0" width="10" height="9.0"/><rect x="1358" y="1195.9" width="10" height="23.1"/><rect x="1419" y="1187.0" width="10" height="32.0"/><rect x="1432" y="1200.9" width="10" height="18.1"/><rect x="1480" y="1200.0" width="10" height="19.0"/><rect x="1493" y="1198.9" width="10" height="20.1"/><rect x="1505" y="1203.0" width="10" height="16.0"/><rect x="1517" y="1208.9" width="10" height="10.1"/><rect x="1554" y="1213.0" width="10" height="6.0"/><rect x="1578" y="1210.0" width="10" height="9.0"/><rect x="1590" y="1213.0" width="10" height="6.0"/><rect x="1676" y="1180.0" width="10" height="39.0"/><rect x="1688" y="1197.0" width="10" height="22.0"/><rect x="1737" y="1180.0" width="10" height="39.0"/><rect x="1749" y="1203.9" width="10" height="15.1"/><rect x="1761" y="1205.9" width="10" height="13.1"/><rect x="1798" y="1182.0" width="10" height="37.0"/><rect x="1810" y="1205.0" width="10" height="14.0"/><rect x="1822" y="1205.0" width="10" height="14.0"/><rect x="1846" y="1197.0" width="10" height="22.0"/><rect x="1920" y="1188.9" width="10" height="30.1"/><rect x="1932" y="1197.8" width="10" height="21.2"/><rect x="1969" y="1190.9" width="10" height="28.1"/><rect x="1981" y="1203.0" width="10" height="16.0"/><rect x="1993" y="1197.8" width="10" height="21.2"/><rect x="2054" y="1197.8" width="10" height="21.2"/><rect x="2115" y="1194.0" width="10" height="25.0"/></g>
<line x1="20" y1="437" x2="2426" y2="437" stroke="#dc4630" stroke-width="2" stroke-dasharray="2 4" stroke-dashoffset="0"/>
<g stroke="#9c27b0" stroke-width="4" fill="none" stroke-linecap="butt">
<line x1="2143.7" y1="400" x2="2191" y2="484.6"/>
<polyline points="2166.1,476.8 2191,484.6 2200.3,456.7"/>
</g>
</g>
<rect x="2524" y="54" width="2" height="1221.5" fill="#4b4c50"/>
<rect x="20" y="1220" width="2668" height="2" fill="#4b4c50"/>
<text x="2544.6" y="85.7" font-size="22" fill="#4e4f55" stroke="#4e4f55" stroke-width="0.45" textLength="121.3" lengthAdjust="spacingAndGlyphs">21.00000000</text>
<text x="2544.6" y="178.9" font-size="22" fill="#4e4f55" stroke="#4e4f55" stroke-width="0.45" textLength="121.3" lengthAdjust="spacingAndGlyphs">19.00000000</text>
<text x="2544.6" y="282.5" font-size="22" fill="#4e4f55" stroke="#4e4f55" stroke-width="0.45" textLength="121.3" lengthAdjust="spacingAndGlyphs">17.00000000</text>
<text x="2544.6" y="339.0" font-size="22" fill="#4e4f55" stroke="#4e4f55" stroke-width="0.45" textLength="121.3" lengthAdjust="spacingAndGlyphs">16.00000000</text>
<text x="2544.6" y="607.0" font-size="22" fill="#4e4f55" stroke="#4e4f55" stroke-width="0.45" textLength="121.3" lengthAdjust="spacingAndGlyphs">12.00000000</text>
<text x="2544.6" y="688.1" font-size="22" fill="#4e4f55" stroke="#4e4f55" stroke-width="0.45" textLength="121.3" lengthAdjust="spacingAndGlyphs">11.00000000</text>
<text x="2544.6" y="776.9" font-size="22" fill="#4e4f55" stroke="#4e4f55" stroke-width="0.45" textLength="121.3" lengthAdjust="spacingAndGlyphs">10.00000000</text>
<text x="2544.6" y="834.5" font-size="22" fill="#4e4f55" stroke="#4e4f55" stroke-width="0.45" textLength="110.5" lengthAdjust="spacingAndGlyphs">9.40000000</text>
<text x="2544.6" y="895.9" font-size="22" fill="#4e4f55" stroke="#4e4f55" stroke-width="0.45" textLength="110.5" lengthAdjust="spacingAndGlyphs">8.80000000</text>
<text x="2544.6" y="961.7" font-size="22" fill="#4e4f55" stroke="#4e4f55" stroke-width="0.45" textLength="110.5" lengthAdjust="spacingAndGlyphs">8.20000000</text>
<text x="2544.6" y="1020.3" font-size="22" fill="#4e4f55" stroke="#4e4f55" stroke-width="0.45" textLength="110.5" lengthAdjust="spacingAndGlyphs">7.70000000</text>
<text x="2544.6" y="1082.9" font-size="22" fill="#4e4f55" stroke="#4e4f55" stroke-width="0.45" textLength="110.5" lengthAdjust="spacingAndGlyphs">7.20000000</text>
<text x="2544.6" y="1143.0" font-size="22" fill="#4e4f55" stroke="#4e4f55" stroke-width="0.45" textLength="110.5" lengthAdjust="spacingAndGlyphs">6.75000000</text>
<text x="2544.6" y="1199.9" font-size="22" fill="#4e4f55" stroke="#4e4f55" stroke-width="0.45" textLength="110.5" lengthAdjust="spacingAndGlyphs">6.35000000</text>
<rect x="2579.5" y="67" width="53" height="33.5" rx="7" fill="#f3dfd0" stroke="#d2d6e2" stroke-width="1.6"/>
<text x="2587.7" y="90.7" font-size="22" fill="#4e4f55" stroke="#4e4f55" stroke-width="0.45" textLength="36.7" lengthAdjust="spacingAndGlyphs">USD</text>
<path d="M2524 359.3H2674a4 4 0 0 1 4 4V386.7a4 4 0 0 1 -4 4H2524Z" fill="#000"/>
<text x="2545.9" y="383.2" font-size="22" fill="#fff" stroke="#fff" stroke-width="0.15" textLength="120.3" lengthAdjust="spacingAndGlyphs">14.96536228</text>
<path d="M2524 390.7H2674a4 4 0 0 1 4 4V417.2a4 4 0 0 1 -4 4H2524Z" fill="#000"/>
<text x="2545.9" y="414.3" font-size="22" fill="#fff" stroke="#fff" stroke-width="0.15" textLength="120.3" lengthAdjust="spacingAndGlyphs">14.42010143</text>
<path d="M2524 421H2674a4 4 0 0 1 4 4V474.8a4 4 0 0 1 -4 4H2524Z" fill="#d95442"/>
<text x="2545.9" y="444.9" font-size="22" fill="#fff" stroke="#fff" stroke-width="0.15" textLength="120.3" lengthAdjust="spacingAndGlyphs">14.27333935</text>
<text x="2544.2" y="471.5" font-size="22" fill="rgba(255,255,255,0.78)" stroke="rgba(255,255,255,0.78)" stroke-width="0.45" textLength="52.7" lengthAdjust="spacingAndGlyphs">09:32</text>
<path d="M2524 505.1H2674a4 4 0 0 1 4 4V532.5a4 4 0 0 1 -4 4H2524Z" fill="#000"/>
<text x="2545.9" y="528.9" font-size="22" fill="#fff" stroke="#fff" stroke-width="0.15" textLength="120.3" lengthAdjust="spacingAndGlyphs">13.04402275</text>
<path d="M2522 421.3V452.7H2430a4 4 0 0 1 -4 -4V425.3a4 4 0 0 1 4 -4Z" fill="#d95442"/>
<text x="2436.3" y="444.9" font-size="22" fill="#fff" stroke="#fff" stroke-width="0.15" textLength="73.9" lengthAdjust="spacingAndGlyphs">APEUSD</text>
<text x="253.5" y="1255.3" font-size="22" fill="#4e4f55" stroke="#4e4f55" stroke-width="0.45" textLength="23" lengthAdjust="spacingAndGlyphs">18</text>
<text x="546.5" y="1255.3" font-size="22" fill="#4e4f55" stroke="#4e4f55" stroke-width="0.45" textLength="23" lengthAdjust="spacingAndGlyphs">19</text>
<text x="839.5" y="1255.3" font-size="22" fill="#4e4f55" stroke="#4e4f55" stroke-width="0.45" textLength="23" lengthAdjust="spacingAndGlyphs">20</text>
<text x="1132.5" y="1255.3" font-size="22" fill="#4e4f55" stroke="#4e4f55" stroke-width="0.45" textLength="23" lengthAdjust="spacingAndGlyphs">21</text>
<text x="1425.5" y="1255.3" font-size="22" fill="#4e4f55" stroke="#4e4f55" stroke-width="0.45" textLength="23" lengthAdjust="spacingAndGlyphs">22</text>
<text x="1717.5" y="1255.3" font-size="22" fill="#4e4f55" stroke="#4e4f55" stroke-width="0.45" textLength="23" lengthAdjust="spacingAndGlyphs">23</text>
<text x="2010.5" y="1255.3" font-size="22" fill="#4e4f55" stroke="#4e4f55" stroke-width="0.45" textLength="23" lengthAdjust="spacingAndGlyphs">24</text>
<text x="2303.5" y="1255.3" font-size="22" fill="#4e4f55" stroke="#4e4f55" stroke-width="0.45" textLength="23" lengthAdjust="spacingAndGlyphs">25</text>
<g fill="#d1d4dc">
<path d="M20 1300.4H37V1319.4H27.8V1308.6H20Z"/>
<circle cx="41.5" cy="1303.9" r="3.5"/>
<path d="M46.9 1300.4H58.7L50.8 1319.4H43Z"/>
</g>
<text x="66.4" y="1319.7" font-size="25.5" fill="#d1d4dc" stroke="#d1d4dc" stroke-width="1.0" textLength="140" lengthAdjust="spacingAndGlyphs">TradingView</text>
</svg></body></html>
